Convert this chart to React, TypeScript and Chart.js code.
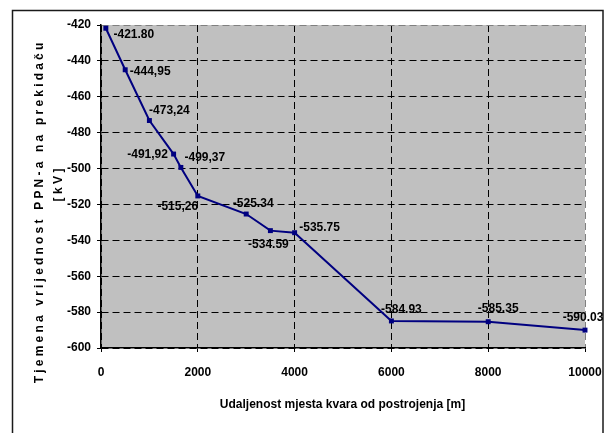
import React, { useEffect, useRef } from "react";
import { Chart, registerables } from "chart.js";

Chart.register(...registerables);

// Fault distance from the substation [m]
const distances = [100, 500, 1000, 1500, 1650, 2000, 3000, 3500, 4000, 6000, 8000, 10000];
// Peak overvoltage at the breaker [kV]
const peakValues = [-421.8, -444.95, -473.24, -491.92, -499.37, -515.26, -525.34, -534.59, -535.75, -584.93, -585.35, -590.03];
// Decimal mark used in each printed value
const decimalMarks = [".", ",", ",", ",", ",", ",", ".", ".", ".", ".", ".", "."];

const xTicks = [0, 2000, 4000, 6000, 8000, 10000];
const yMin = -600;
const yMax = -420;
const yStep = 20;

const xTitle = "Udaljenost mjesta kvara od postrojenja [m]";
const yTitleLines = ["Tjemena vrijednost PPN-a na prekidaču", "[kV]"];

// Offsets (dx, dy) of each value label from its marker centre
const labelOffsets: [number, number][] = [
  [28, 6], [25, 2], [20, -10], [-26, 1], [24, -10], [-20, 11],
  [7, -10], [-2, 14], [25, -5], [10, -11], [10, -13], [-2, -12],
];

const FONT = "'Liberation Sans', Arial, sans-serif";

const framePlugin = {
  id: "frame",
  beforeDraw(chart: any) {
    const { ctx, chartArea } = chart;
    ctx.save();
    ctx.fillStyle = "#ffffff";
    ctx.fillRect(0, 0, chart.width, chart.height);
    ctx.strokeStyle = "#1a1a1a";
    ctx.lineWidth = 1.5;
    ctx.strokeRect(12.5, 10.5, 590.5, 440);
    ctx.fillStyle = "#c0c0c0";
    ctx.fillRect(chartArea.left, chartArea.top, chartArea.right - chartArea.left, chartArea.bottom - chartArea.top);
    ctx.restore();
  },
  afterDraw(chart: any) {
    const { ctx, chartArea } = chart;
    ctx.save();
    ctx.fillStyle = "#000";
    ctx.font = `bold 12px ${FONT}`;
    ctx.textAlign = "center";
    ctx.textBaseline = "middle";
    ctx.fillText(xTitle, (chartArea.left + chartArea.right) / 2 - 0.5, 405);

    // rotated, letter-spaced axis title
    const drawSpaced = (text: string, cx: number, cy: number, spacing: number) => {
      ctx.save();
      ctx.translate(cx, cy);
      ctx.rotate(-Math.PI / 2);
      (ctx as any).letterSpacing = `${spacing}px`;
      const w = ctx.measureText(text).width - spacing;
      ctx.textAlign = "left";
      ctx.fillText(text, -w / 2, 0);
      ctx.restore();
    };
    drawSpaced(yTitleLines[0], 40, 213, 3.2);
    drawSpaced(yTitleLines[1], 59, 185, 3.5);
    ctx.restore();
  },
};

const valueLabelPlugin = {
  id: "valueLabels",
  afterDatasetsDraw(chart: any) {
    const { ctx } = chart;
    const meta = chart.getDatasetMeta(0);
    ctx.save();
    ctx.fillStyle = "#000";
    ctx.font = `bold 12px ${FONT}`;
    ctx.textAlign = "center";
    ctx.textBaseline = "middle";
    meta.data.forEach((pt: any, i: number) => {
      const text = peakValues[i].toFixed(2).replace(".", decimalMarks[i]);
      const [dx, dy] = labelOffsets[i];
      ctx.fillText(text, pt.x + dx, pt.y + dy);
    });
    ctx.restore();
  },
};

export default function App() {
  const canvasRef = useRef<HTMLCanvasElement | null>(null);

  useEffect(() => {
    if (!canvasRef.current) return;
    const chart = new Chart(canvasRef.current, {
      type: "line",
      data: {
        datasets: [
          {
            data: distances.map((d, i) => ({ x: d, y: peakValues[i] })),
            borderColor: "#000080",
            backgroundColor: "#000080",
            borderWidth: 2,
            pointStyle: "rect",
            pointRadius: 3.5,
            pointBorderWidth: 0,
            tension: 0,
            clip: false as any,
          },
        ],
      },
      options: {
        animation: false,
        responsive: false,
        events: [],
        layout: { padding: { left: 0, top: 25, right: 21, bottom: 0 } },
        plugins: { legend: { display: false }, tooltip: { enabled: false } },
        scales: {
          x: {
            type: "linear",
            min: 0,
            max: 10000,
            afterFit: (s: any) => {
              s.height = 85;
              s.paddingLeft = 0;
              s.paddingRight = 0;
            },
            afterBuildTicks: (s: any) => { s.ticks = xTicks.map((v) => ({ value: v })); },
            ticks: {
              color: "#000",
              font: { family: FONT, size: 12, weight: "bold" },
              padding: 13,
              maxRotation: 0,
              callback: (v: any) => String(v),
            },
            grid: {
              color: (c: any) => (c.tick && c.tick.value === 10000 ? "#808080" : "#000"),
              lineWidth: 1,
              tickLength: 4,
              tickColor: "#000",
              tickBorderDash: [],
            },
            border: { display: true, color: "#000", width: 1.5, dash: [7, 4] },
          },
          y: {
            type: "linear",
            min: yMin,
            max: yMax,
            afterFit: (s: any) => {
              s.width = 101;
              s.paddingTop = 0;
              s.paddingBottom = 0;
            },
            ticks: {
              stepSize: yStep,
              color: "#000",
              font: { family: FONT, size: 12, weight: "bold" },
              padding: 6,
              callback: (v: any) => String(v),
            },
            grid: {
              color: (c: any) => (c.tick && c.tick.value === yMax ? "#808080" : "#000"),
              lineWidth: 1,
              tickLength: 4,
              tickColor: "#000",
              tickBorderDash: [],
            },
            border: { display: true, color: "#000", width: 1.5, dash: [7, 4] },
          },
        },
      },
      plugins: [framePlugin, valueLabelPlugin],
    } as any);
    return () => chart.destroy();
  }, []);

  return (
    <div style={{ position: "fixed", left: 0, top: 0, width: 606, height: 433, background: "#fff" }}>
      <canvas ref={canvasRef} width={606} height={433} style={{ display: "block" }} />
    </div>
  );
}
